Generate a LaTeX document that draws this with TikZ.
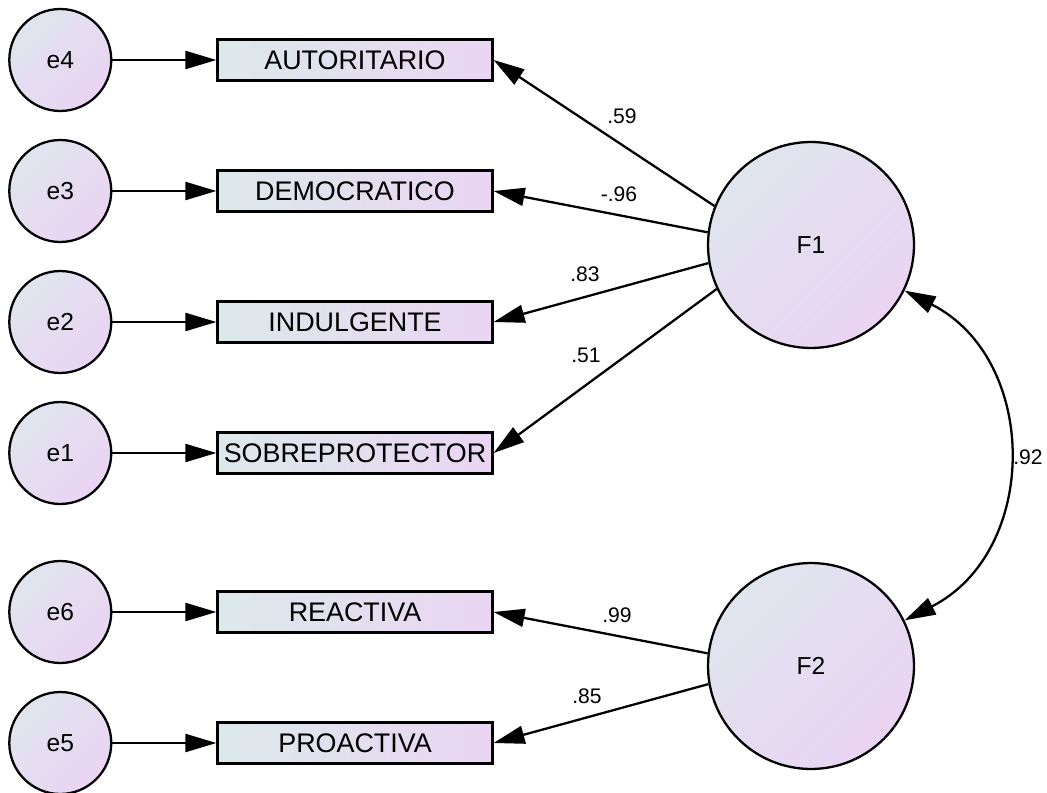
\documentclass[tikz,border=0pt]{standalone}
\usepackage{fontspec}
\setmainfont{Liberation Sans}
\usetikzlibrary{arrows.meta, positioning}
\definecolor{boxleft}{RGB}{220, 233, 235}
\definecolor{boxright}{RGB}{234, 213, 243}
\definecolor{circtop}{RGB}{224, 229, 238}
\definecolor{circbottom}{RGB}{234, 212, 243}

\begin{document}
\begin{tikzpicture}[
    x=0.02cm, y=-0.02cm,
    observed/.style={
        rectangle,
        draw=black,
        line width=1.3pt,
        left color=boxleft,
        right color=boxright,
        minimum width=5.5cm,
        minimum height=0.82cm,
        inner sep=0pt,
        font=\fontsize{15.3}{18}\selectfont
    },
    errorvar/.style={
        circle,
        draw=black,
        line width=1.3pt,
        top color=circtop,
        bottom color=circbottom,
        shading angle=45,
        minimum size=2.04cm,
        inner sep=0pt,
        font=\fontsize{14}{16}\selectfont
    },
    factor/.style={
        errorvar,
        minimum size=4.12cm
    },
    loading/.style={
        line width=1.3pt,
        -{Triangle[length=6.2mm, width=3.6mm]}
    },
    cov/.style={
        line width=1.3pt,
        {Triangle[length=6.2mm, width=3.6mm]}-{Triangle[length=6.2mm, width=3.6mm]}
    },
    coef/.style={
        font=\fontsize{12}{14}\selectfont,
        inner sep=1pt
    }
]

\useasboundingbox (0,0) rectangle (1047,793);

% Observed variables
\node[observed] (aut) at (355,60) {AUTORITARIO};
\node[observed] (dem) at (355,191) {DEMOCRATICO};
\node[observed] (ind) at (355,322) {INDULGENTE};
\node[observed] (sob) at (355,453) {SOBREPROTECTOR};
\node[observed] (rea) at (355,612) {REACTIVA};
\node[observed] (pro) at (355,743) {PROACTIVA};

% Error terms
\node[errorvar, left=2.08cm of aut] (e4) {e4};
\node[errorvar, left=2.08cm of dem] (e3) {e3};
\node[errorvar, left=2.08cm of ind] (e2) {e2};
\node[errorvar, left=2.08cm of sob] (e1) {e1};
\node[errorvar, left=2.08cm of rea] (e6) {e6};
\node[errorvar, left=2.08cm of pro] (e5) {e5};

% Latent factors
\node[factor] (F1) at (811,245) {F1};
\node[factor] (F2) at (811,666) {F2};

% Error arrows
\draw[loading] (e4) -- (aut);
\draw[loading] (e3) -- (dem);
\draw[loading] (e2) -- (ind);
\draw[loading] (e1) -- (sob);
\draw[loading] (e6) -- (rea);
\draw[loading] (e5) -- (pro);

% Factor loadings
\draw[loading] (F1.158) -- (aut.east);
\draw[loading] (F1.173) -- (dem.east);
\draw[loading] (F1.190) -- (ind.east);
\draw[loading] (F1.205) -- (sob.east);
\draw[loading] (F2.173) -- (rea.east);
\draw[loading] (F2.190) -- (pro.east);

% Covariance between factors
\draw[cov] (F1.334) to[bend left=63, looseness=1.18] (F2.26);

% Standardised estimates
\node[coef] (w_aut) at (622,116) {.59};
\node[coef] (w_dem) at (619,194) {-.96};
\node[coef] (w_ind) at (585,274) {.83};
\node[coef] (w_sob) at (586,355) {.51};
\node[coef] (w_rea) at (617,615) {.99};
\node[coef] (w_pro) at (587,696) {.85};
\node[coef] (r_f12) at (1028,457) {.92};

\end{tikzpicture}
\end{document}
